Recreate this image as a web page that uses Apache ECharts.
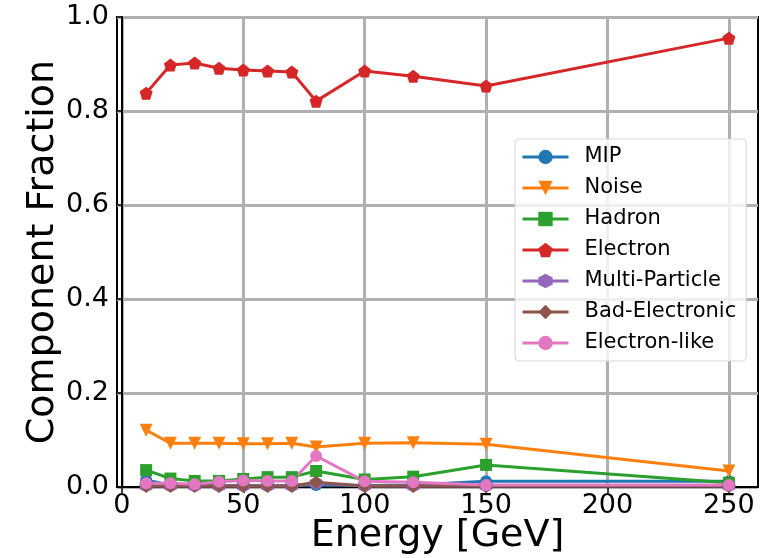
<!DOCTYPE html>
<html>
<head>
<meta charset="utf-8">
<script src="https://cdn.jsdelivr.net/npm/echarts@6/dist/echarts.min.js"></script>
<style>
  html, body { margin: 0; padding: 0; background: #fff; }
  #main { width: 771px; height: 558px; }
</style>
</head>
<body>
<div id="main"></div>
<script>
// beam energies (GeV)
var energies = [10, 20, 30, 40, 50, 60, 70, 80, 100, 120, 150, 250];
var xTicks = [0, 50, 100, 150, 200, 250];

// fractions per component
var mip          = [0.015, 0.004, 0.003, 0.003, 0.003, 0.003, 0.003, 0.004, 0.003, 0.004, 0.012, 0.012];
var noise        = [0.121, 0.093, 0.093, 0.093, 0.092, 0.092, 0.093, 0.085, 0.093, 0.094, 0.091, 0.034];
var hadron       = [0.036, 0.018, 0.013, 0.013, 0.017, 0.021, 0.021, 0.034, 0.016, 0.022, 0.047, 0.009];
var electron     = [0.838, 0.898, 0.902, 0.891, 0.887, 0.885, 0.883, 0.821, 0.885, 0.874, 0.853, 0.955];
var multiPart    = [0.002, 0.002, 0.002, 0.002, 0.002, 0.002, 0.002, 0.008, 0.002, 0.002, 0.002, 0.002];
var badElec      = [0.002, 0.002, 0.002, 0.002, 0.002, 0.002, 0.002, 0.010, 0.002, 0.002, 0.002, 0.002];
var electronLike = [0.008, 0.008, 0.006, 0.011, 0.014, 0.013, 0.013, 0.066, 0.012, 0.010, 0.004, 0.004];

var FONT = 'DejaVu Sans';

// matplotlib-like markers
var PENTAGON = 'path://M0,-10 L9.51,-3.09 L5.88,8.09 L-5.88,8.09 L-9.51,-3.09 Z';
var HEXAGON = 'path://M0,-10 L8.66,-5 L8.66,5 L0,10 L-8.66,5 L-8.66,-5 Z';
var THIN_DIAMOND = 'path://M0,-10 L6,0 L0,10 L-6,0 Z';

function pairs(ys) {
    return energies.map(function (e, i) { return [e, ys[i]]; });
}

function mkSeries(name, ys, color, symbol, size, rotate) {
    return {
        name: name,
        type: 'line',
        data: pairs(ys),
        symbol: symbol,
        symbolSize: size,
        symbolRotate: rotate || 0,
        showAllSymbol: true,
        lineStyle: { color: color, width: 3 },
        itemStyle: { color: color, borderWidth: 0 },
        emphasis: { disabled: true },
        animation: false
    };
}

var chart = echarts.init(document.getElementById('main'));

var option = {
    animation: false,
    backgroundColor: '#fff',
    grid: {
        left: 117, right: 13, top: 17, bottom: 71,
        outerBoundsMode: 'none',
        containLabel: false,
        show: true,
        borderColor: '#000',
        borderWidth: 2,
        backgroundColor: 'transparent'
    },
    legend: {
        left: 515,
        top: 139,
        orient: 'vertical',
        width: 233,
        padding: [7, 10, 7, 6],
        itemWidth: 46,
        itemHeight: 18,
        itemGap: 9,
        lineStyle: { width: 3 },
        backgroundColor: 'rgba(255,255,255,0.8)',
        borderColor: '#d6d6d6',
        borderWidth: 1,
        borderRadius: 4,
        textStyle: {
            fontFamily: FONT, fontSize: 21, color: '#000',
            lineHeight: 22, padding: [0, 0, 0, 11]
        }
    },
    xAxis: {
        type: 'value',
        min: -2,
        max: 262,
        axisLine: { show: true, onZero: false, lineStyle: { color: '#000', width: 2 } },
        axisTick: { show: true, customValues: xTicks, length: 6, lineStyle: { color: '#000', width: 1.5 } },
        axisLabel: {
            customValues: xTicks, margin: 5,
            fontFamily: FONT, fontSize: 27, color: '#000'
        },
        splitLine: { show: true, lineStyle: { color: '#b0b0b0', width: 3 } },
        name: 'Energy [GeV]',
        nameLocation: 'middle',
        nameMoveOverlap: false,
        nameGap: 29,
        nameTextStyle: { fontFamily: FONT, fontSize: 38, color: '#000', verticalAlign: 'top', lineHeight: 40 }
    },
    yAxis: {
        type: 'value',
        min: 0,
        max: 1,
        interval: 0.2,
        axisLine: { show: true, lineStyle: { color: '#000', width: 2 } },
        axisTick: { show: true, length: 6, lineStyle: { color: '#000', width: 1.5 } },
        axisLabel: {
            margin: 8,
            fontFamily: FONT, fontSize: 27, color: '#000',
            formatter: function (v) { return v.toFixed(1); }
        },
        splitLine: { show: true, lineStyle: { color: '#b0b0b0', width: 3 } },
        name: 'Component Fraction',
        nameLocation: 'middle',
        nameMoveOverlap: false,
        nameGap: 55,
        nameTextStyle: { fontFamily: FONT, fontSize: 38, color: '#000' }
    },
    series: [
        mkSeries('MIP', mip, '#1f77b4', 'circle', 12),
        mkSeries('Noise', noise, '#ff7f0e', 'triangle', 13, 180),
        mkSeries('Hadron', hadron, '#2ca02c', 'rect', 12),
        mkSeries('Electron', electron, '#d62728', PENTAGON, 13),
        mkSeries('Multi-Particle', multiPart, '#9467bd', HEXAGON, 13),
        mkSeries('Bad-Electronic', badElec, '#8c564b', THIN_DIAMOND, 14),
        mkSeries('Electron-like', electronLike, '#e377c2', 'circle', 12)
    ]
};

chart.setOption(option);
</script>
</body>
</html>
